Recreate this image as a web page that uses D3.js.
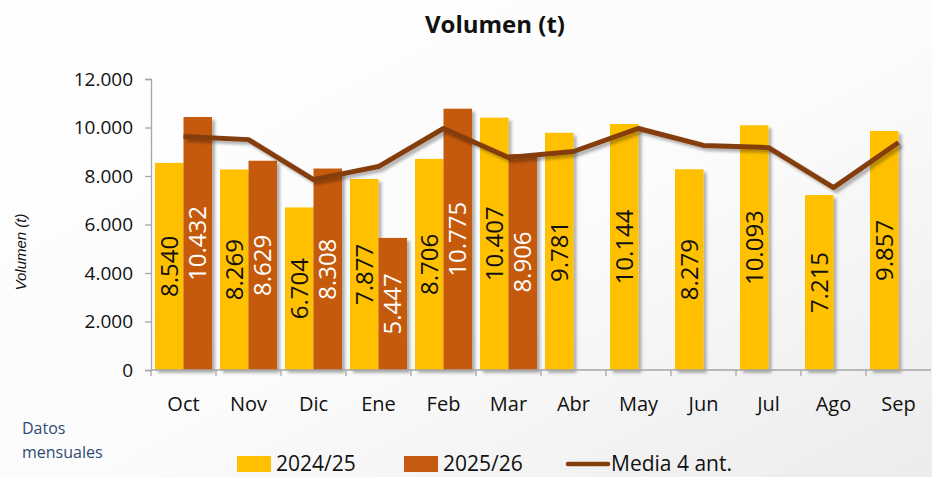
<!DOCTYPE html>
<html>
<head>
<meta charset="utf-8">
<script src="https://cdn.jsdelivr.net/npm/d3@7"></script>
<style>
  html, body { margin: 0; padding: 0; background: #fff; }
  svg { display: block; font-family: "Open Sans", "Noto Sans", sans-serif; }
</style>
</head>
<body>
<div id="chart"></div>
<script>
// Chart data
const months = ["Oct", "Nov", "Dic", "Ene", "Feb", "Mar", "Abr", "May", "Jun", "Jul", "Ago", "Sep"];
const series = ["2024/25", "2025/26"];
const values2425 = [8540, 8269, 6704, 7877, 8706, 10407, 9781, 10144, 8279, 10093, 7215, 9857];
const values2526 = [10432, 8629, 8308, 5447, 10775, 8906, null, null, null, null, null, null];
const media4 = [9630, 9500, 7850, 8390, 9960, 8760, 9010, 9960, 9260, 9170, 7520, 9380];
const yTicks = [0, 2000, 4000, 6000, 8000, 10000, 12000];

const W = 932, H = 477;
const colors = { "2024/25": "#FFC000", "2025/26": "#C55A11", line: "#843C0C" };

const svg = d3.select("#chart").append("svg")
    .attr("width", W)
    .attr("height", H);

const defs = svg.append("defs");

// soft grey background gradient
const bg = defs.append("linearGradient")
    .attr("id", "bgGrad")
    .attr("x1", "0%").attr("y1", "0%")
    .attr("x2", "100%").attr("y2", "100%");
bg.append("stop").attr("offset", "0%").attr("stop-color", "#ffffff");
bg.append("stop").attr("offset", "55%").attr("stop-color", "#fbfbfb");
bg.append("stop").attr("offset", "100%").attr("stop-color", "#ececec");

const shadow = defs.append("filter")
    .attr("id", "shadow")
    .attr("x", "-20%").attr("y", "-20%")
    .attr("width", "150%").attr("height", "150%");
shadow.append("feDropShadow")
    .attr("dx", 3).attr("dy", 3)
    .attr("stdDeviation", 1.8)
    .attr("flood-color", "#000")
    .attr("flood-opacity", 0.3);

svg.append("rect")
    .attr("width", W).attr("height", H)
    .attr("fill", "url(#bgGrad)");

// Scales
const x = d3.scaleBand()
    .domain(months)
    .range([151, 931])
    .padding(0);

const xs = d3.scaleBand()
    .domain(series)
    .range([4, x.bandwidth() - 4])
    .padding(0);

const y = d3.scaleLinear()
    .domain([0, 12000])
    .range([370, 79]);

const locale = d3.formatLocale({ decimal: ",", thousands: ".", grouping: [3], currency: ["", ""] });
const fmt = locale.format(",d");

// Title
svg.append("text")
    .attr("x", 495).attr("y", 33)
    .attr("text-anchor", "middle")
    .attr("font-size", 24)
    .attr("font-weight", 700)
    .attr("fill", "#111")
    .text("Volumen (t)");

// Y axis title
svg.append("text")
    .attr("transform", "translate(26,252) rotate(-90)")
    .attr("text-anchor", "middle")
    .attr("font-family", "'Liberation Sans', Arial, sans-serif")
    .attr("font-style", "italic")
    .attr("font-size", 15)
    .attr("fill", "#111")
    .text("Volumen (t)");

// Y axis
const yAxis = svg.append("g")
    .attr("transform", "translate(151,0)")
    .call(d3.axisLeft(y).tickValues(yTicks).tickFormat(fmt).tickSize(6).tickPadding(12));
yAxis.select(".domain").attr("stroke", "#a6a6a6").attr("stroke-width", 1.3);
yAxis.selectAll(".tick line").attr("stroke", "#a6a6a6").attr("stroke-width", 1.3);
yAxis.selectAll(".tick text")
    .attr("font-size", 19)
    .attr("font-family", "'Open Sans', sans-serif")
    .attr("fill", "#111");

// Bars
const rows = months.map((m, i) => ({ month: m, "2024/25": values2425[i], "2025/26": values2526[i] }));

const groups = svg.append("g")
    .selectAll("g")
    .data(rows)
    .join("g")
    .attr("transform", d => `translate(${x(d.month)},0)`);

const barData = d => series.filter(s => d[s] != null).map(s => ({ key: s, value: d[s] }));

groups.selectAll("rect")
    .data(barData)
    .join("rect")
    .attr("x", d => xs(d.key))
    .attr("y", d => y(d.value))
    .attr("width", xs.bandwidth())
    .attr("height", d => y(0) - y(d.value))
    .attr("fill", d => colors[d.key])
    .attr("filter", "url(#shadow)");

groups.selectAll("text.val")
    .data(barData)
    .join("text")
    .attr("class", "val")
    .attr("transform", d => `translate(${xs(d.key) + xs.bandwidth() / 2},${(y(0) + y(d.value)) / 2}) rotate(-90)`)
    .attr("text-anchor", "middle")
    .attr("dy", "0.36em")
    .attr("font-size", 24)
    .attr("fill", d => d.key === "2025/26" ? "#fff" : "#111")
    .text(d => fmt(d.value));

// X axis
const xAxis = svg.append("g")
    .attr("transform", "translate(0,370)");
xAxis.append("line")
    .attr("x1", 151).attr("x2", 931)
    .attr("stroke", "#a6a6a6").attr("stroke-width", 1.3);
xAxis.selectAll("line.tk")
    .data(months)
    .join("line")
    .attr("class", "tk")
    .attr("x1", d => x(d)).attr("x2", d => x(d))
    .attr("y1", 0).attr("y2", 6)
    .attr("stroke", "#a6a6a6").attr("stroke-width", 1.3);
xAxis.selectAll("text")
    .data(months)
    .join("text")
    .attr("x", d => x(d) + x.bandwidth() / 2)
    .attr("y", 41)
    .attr("text-anchor", "middle")
    .attr("font-size", 20)
    .attr("fill", "#111")
    .text(d => d);

// Media line
const line = d3.line()
    .x((d, i) => x(months[i]) + x.bandwidth() / 2)
    .y(d => y(d));

svg.append("path")
    .datum(media4)
    .attr("d", line)
    .attr("fill", "none")
    .attr("stroke", colors.line)
    .attr("stroke-width", 5)
    .attr("stroke-linejoin", "round")
    .attr("filter", "url(#shadow)");

// Footnote
const note = svg.append("text")
    .attr("font-size", 16)
    .attr("fill", "#2F4A74");
note.append("tspan").attr("x", 22).attr("y", 434).text("Datos");
note.append("tspan").attr("x", 22).attr("y", 458).text("mensuales");

// Legend
const legend = svg.append("g").attr("font-size", 21).attr("fill", "#111");
const legendItems = [
    { label: "2024/25", type: "rect", color: colors["2024/25"], x: 237 },
    { label: "2025/26", type: "rect", color: colors["2025/26"], x: 404 },
    { label: "Media 4 ant.", type: "line", color: colors.line, x: 568 }
];
legendItems.forEach(it => {
    if (it.type === "rect") {
        legend.append("rect")
            .attr("x", it.x).attr("y", 456)
            .attr("width", 34).attr("height", 16)
            .attr("fill", it.color);
        legend.append("text").attr("x", it.x + 39).attr("y", 471).text(it.label);
    } else {
        legend.append("line")
            .attr("x1", it.x).attr("x2", it.x + 40)
            .attr("y1", 464).attr("y2", 464)
            .attr("stroke", it.color).attr("stroke-width", 4.5)
            .attr("stroke-linecap", "round");
        legend.append("text").attr("x", it.x + 43).attr("y", 471).text(it.label);
    }
});
</script>
</body>
</html>
